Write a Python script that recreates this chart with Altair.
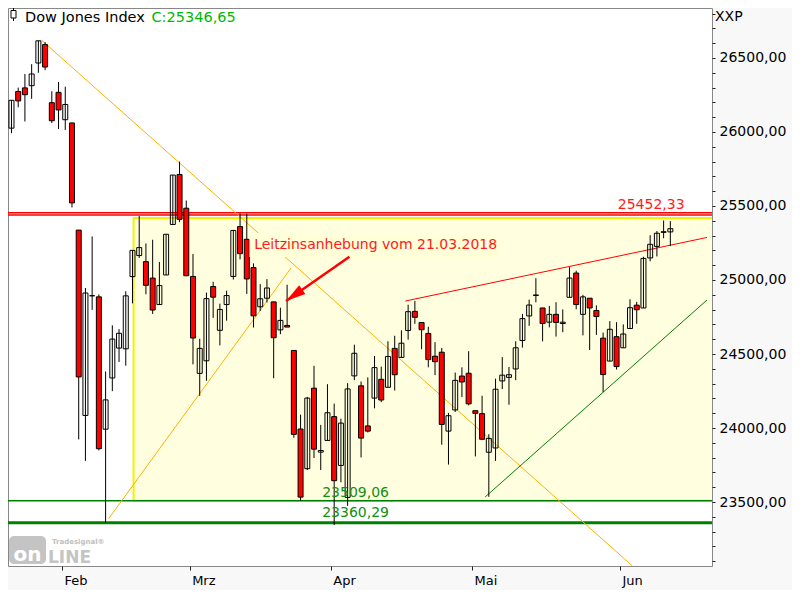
import altair as alt
import pandas as pd

# ---------------- data ----------------
dates = ["01-19", "01-22", "01-23", "01-24", "01-25", "01-26", "01-29", "01-30", "01-31",
         "02-01", "02-02", "02-05", "02-06", "02-07", "02-08", "02-09", "02-12", "02-13", "02-14",
         "02-15", "02-16", "02-20", "02-21", "02-22", "02-23", "02-26", "02-27", "02-28",
         "03-01", "03-02", "03-05", "03-06", "03-07", "03-08", "03-09", "03-12", "03-13", "03-14",
         "03-15", "03-16", "03-19", "03-20", "03-21", "03-22", "03-23", "03-26", "03-27", "03-28", "03-29",
         "04-02", "04-03", "04-04", "04-05", "04-06", "04-09", "04-10", "04-11", "04-12", "04-13",
         "04-16", "04-17", "04-18", "04-19", "04-20", "04-23", "04-24", "04-25", "04-26", "04-27", "04-30",
         "05-01", "05-02", "05-03", "05-04", "05-07", "05-08", "05-09", "05-10", "05-11",
         "05-14", "05-15", "05-16", "05-17", "05-18", "05-21", "05-22", "05-23", "05-24", "05-25",
         "05-29", "05-30", "05-31",
         "06-01", "06-04", "06-05", "06-06", "06-07", "06-08", "06-11", "06-12"]
opens = [26037, 26026, 26274, 26298, 26313, 26466, 26591, 26198, 26268,
         26083, 26061, 25337, 24085, 24894, 24886, 23992, 24338, 24540, 24535,
         25023, 25165, 25124, 25013, 24834, 25034, 25375, 25713, 25485,
         25024, 24369, 24454, 24956, 24660, 24834, 25024, 25361, 25275, 25084,
         24819, 24877, 24852, 24663, 24693, 24524, 23993, 23725, 24269, 23837, 23916,
         24077, 23747, 23531, 24352, 24285, 24014, 24202, 24329, 24275, 24538,
         24477, 24659, 24788, 24713, 24639, 24485, 24512, 23979, 24122, 24351, 24370,
         24117, 24097, 23836, 23865, 24318, 24342, 24399, 24591, 24757,
         24895, 24811, 24715, 24768, 24706, 24883, 25047, 24768, 24877, 24794,
         24607, 24452, 24617,
         24542, 24672, 24830, 24811, 25149, 25227, 25326, 25325]
highs = [26072, 26215, 26300, 26392, 26458, 26617, 26608, 26275, 26338,
         26306, 26061, 25337, 24946, 25294, 24903, 24382, 24694, 24668, 24924,
         25200, 25432, 25247, 25272, 25122, 25309, 25709, 25800, 25537,
         25176, 24603, 24915, 24988, 24840, 24928, 25336, 25450, 25449, 25112,
         24972, 25006, 24853, 24813, 24968, 24524, 24090, 24210, 24420, 24021, 24296,
         24165, 24063, 24303, 24563, 24314, 24342, 24487, 24415, 24586, 24623,
         24660, 24833, 24859, 24715, 24684, 24580, 24540, 24102, 24375, 24410, 24519,
         24117, 24218, 23958, 24333, 24479, 24412, 24586, 24771, 24867,
         25012, 24812, 24825, 24850, 24801, 25086, 25063, 24900, 24877, 24828,
         24645, 24722, 24715,
         24700, 24870, 24852, 25157, 25303, 25331, 25402, 25398]
lows = [25945, 25992, 26167, 26071, 26224, 26400, 26418, 26061, 26020,
        26014, 25490, 23923, 23778, 24798, 23849, 23360.29, 24249, 24446, 24421,
        24842, 25149, 24903, 24771, 24834, 25034, 25375, 25391, 25025,
        24430, 24217, 24319, 24744, 24558, 24725, 25003, 25139, 24906, 24679,
        24790, 24848, 24336, 24634, 24682, 23934, 23509.06, 23716, 23797, 23716, 23916,
        23344, 23633, 23474, 24323, 23801, 23970, 24133, 24175, 24275, 24253,
        24477, 24597, 24704, 24532, 24410, 24357, 23887, 23753, 24108, 24209, 24153,
        23808, 23918, 23535, 23778, 24263, 24157, 24323, 24543, 24690,
        24849, 24585, 24680, 24618, 24647, 24883, 24802, 24626, 24527, 24629,
        24242, 24452, 24395,
        24542, 24672, 24704, 24811, 25126, 25159, 25282, 25229]
closes = [26071, 26214, 26210, 26252, 26392, 26616, 26439, 26076, 26149,
          26186, 25521, 24345, 24912, 24893, 23860, 24190, 24601, 24640, 24893,
          25200, 25219, 24964, 24797, 24962, 25309, 25709, 25410, 25029,
          24608, 24538, 24874, 24884, 24801, 24895, 25335, 25178, 25007, 24758,
          24873, 24946, 24610, 24727, 24682, 23957, 23533, 24202, 23857, 23848, 24103,
          23644, 24033, 24264, 24505, 23932, 23979, 24408, 24189, 24483, 24360,
          24573, 24786, 24748, 24664, 24462, 24448, 24024, 24083, 24322, 24311, 24163,
          24099, 23924, 23930, 24262, 24357, 24360, 24542, 24739, 24831,
          24899, 24706, 24768, 24713, 24715, 25013, 24834, 24886, 24811, 24753,
          24361, 24667, 24415,
          24635, 24813, 24799, 25146, 25241, 25316, 25322, 25346.65]
first_index = -9  # Jan 19 is 9 trading days before Feb 1

month_labels = ["Feb", "Mrz", "Apr", "Mai", "Jun"]
month_index = [0, 19, 40, 61, 83]

# horizontal levels
red_levels = [25455, 25440]
green_levels = [23509.06, 23360.29]
green_widths = [1.5, 3.0]

# support zone (rectangle)
zone_x = [10.66, 97.5]
zone_y = [23509.06, 25419]

# trend lines
trend_x1 = [-3.06, 6.95, 51.09, 62.96]
trend_y1 = [26621.6, 23387, 24858, 23534]
trend_x2 = [84.87, 34.08, 95.953, 95.953]
trend_y2 = [23067.6, 25081, 25287.5, 24865]
trend_col = ["#ffb000", "#ffb000", "#ff0000", "#008000"]

# annotation
note_text = "Leitzinsanhebung vom 21.03.2018"
note_box_x = [27.9, 64.9]
note_box_y = [25155.4, 25317.6]
note_pos = [28.6, 25209.5]
arrow_from = [42.77, 25157.4]
arrow_to = [33.34, 24858]

title_name = "Dow Jones Index"
title_close = "C:25346,65"

# ---------------- scales / axes ----------------
X_DOM = [-7.273, 95.953]
Y_DOM = [23067.6, 26837.8]
xs = alt.Scale(domain=X_DOM, nice=False, zero=False)
ys = alt.Scale(domain=Y_DOM, nice=False, zero=False)

label_expr = " : ".join(
    f"datum.value == {v} ? '{l}'" for v, l in zip(month_index, month_labels)) + " : ''"
xaxis = alt.Axis(values=month_index, labelExpr=label_expr, title=None, grid=False,
                 domain=False, tickSize=4, tickColor="#222222", labelAlign="left",
                 labelOffset=2, labelPadding=4, labelFont="DejaVu Sans", labelFontSize=13,
                 labelColor="#000000", labelOverlap=False, labelFlush=False)
yaxis = alt.Axis(orient="right", values=list(range(23100, 26801, 100)),
                 labelExpr="datum.value % 500 == 0 ? replace(format(datum.value, '.2f'), '.', ',') : ''",
                 title=None, grid=False, domain=False, tickSize=3, tickColor="#222222",
                 labelPadding=4, labelFont="DejaVu Sans", labelFontSize=14,
                 labelColor="#000000", labelOverlap=False, labelFlush=False)


def X(f):
    return alt.X(f, type="quantitative", scale=xs, axis=xaxis)


def Y(f):
    return alt.Y(f, type="quantitative", scale=ys, axis=yaxis)


candles = pd.DataFrame({
    "date": dates, "open": opens, "high": highs, "low": lows, "close": closes})
candles["x"] = [first_index + k + 0.5 for k in range(len(dates))]

zone_df = pd.DataFrame({"x": [zone_x[0]], "x2": [zone_x[1]], "y": [zone_y[0]], "y2": [zone_y[1]]})
zone = alt.Chart(zone_df).mark_rect(fill="#ffffe0", stroke="#f2f200", strokeWidth=2, clip=True).encode(
    x=X("x"), x2="x2", y=Y("y"), y2="y2")

red_df = pd.DataFrame({"y": red_levels})
red_rules = alt.Chart(red_df).mark_rule(color="#ff0000", strokeWidth=1.5).encode(y=Y("y"))

green_df = pd.DataFrame({"y": green_levels, "w": green_widths})
green_rules = alt.Chart(green_df).mark_rule(color="#008000").encode(
    y=Y("y"), strokeWidth=alt.StrokeWidth("w:Q", scale=None, legend=None))

trend_df = pd.DataFrame({"x": trend_x1, "y": trend_y1, "x2": trend_x2, "y2": trend_y2, "c": trend_col})
trends = alt.Chart(trend_df).mark_rule(strokeWidth=1, clip=True).encode(
    x=X("x"), y=Y("y"), x2="x2", y2="y2", color=alt.Color("c:N", scale=None, legend=None))

wicks = alt.Chart(candles).mark_rule(color="#000000", strokeWidth=1, clip=True).encode(
    x=X("x"), y=Y("low"), y2="high")
bodies = alt.Chart(candles).mark_bar(size=5, stroke="#000000", strokeWidth=1, clip=True).encode(
    x=X("x"), y=Y("open"), y2="close",
    fill=alt.condition("datum.close < datum.open", alt.value("#ff0000"), alt.value("rgba(255,255,255,0)")))

box_df = pd.DataFrame({"x": [note_box_x[0]], "x2": [note_box_x[1]], "y": [note_box_y[0]], "y2": [note_box_y[1]]})
note_box = alt.Chart(box_df).mark_rect(fill="#ffffd8").encode(x=X("x"), x2="x2", y=Y("y"), y2="y2")

note_df = pd.DataFrame({"x": [note_pos[0]], "y": [note_pos[1]], "t": [note_text]})
note = alt.Chart(note_df).mark_text(align="left", baseline="alphabetic", font="DejaVu Sans",
                                     fontSize=14, color="#ff1a1a").encode(x=X("x"), y=Y("y"), text="t:N")

arrow_df = pd.DataFrame({"x": [arrow_from[0]], "y": [arrow_from[1]], "x2": [arrow_to[0]], "y2": [arrow_to[1]]})
shaft = alt.Chart(arrow_df).mark_rule(color="#ff0000", strokeWidth=2.5).encode(
    x=X("x"), y=Y("y"), x2="x2", y2="y2")
head_df = pd.DataFrame({"x": [arrow_to[0]], "y": [arrow_to[1]]})
head = alt.Chart(head_df).mark_point(shape="M0,0L0.6,2.2L-0.6,2.2Z", size=324, angle=235,
                                     filled=True, color="#ff0000", opacity=1).encode(x=X("x"), y=Y("y"))

lvl_df = pd.DataFrame({
    "x": [92.62, 43.68, 43.68],
    "y": [red_levels[0], green_levels[0], green_levels[1]],
    "t": ["25452,33", "23509,06", "23360,29"],
})
lvl_red = alt.Chart(lvl_df.iloc[[0]]).mark_text(align="right", baseline="alphabetic", dy=-3.5,
                                                 font="DejaVu Sans", fontSize=14, color="#ff1a1a").encode(
    x=X("x"), y=Y("y"), text="t:N")
lvl_g1 = alt.Chart(lvl_df.iloc[[1]]).mark_text(align="center", baseline="alphabetic", dy=-4,
                                                font="DejaVu Sans", fontSize=14, color="#109010").encode(
    x=X("x"), y=Y("y"), text="t:N")
lvl_g2 = alt.Chart(lvl_df.iloc[[2]]).mark_text(align="center", baseline="alphabetic", dy=-6,
                                                font="DejaVu Sans", fontSize=14, color="#109010").encode(
    x=X("x"), y=Y("y"), text="t:N")

one = pd.DataFrame({"a": [0]})
title1 = alt.Chart(one).mark_text(align="left", baseline="alphabetic", font="DejaVu Sans",
                                  fontSize=14.5, color="#000000").encode(
    x=alt.value(17), y=alt.value(13.5), text=alt.value(title_name))
title2 = alt.Chart(one).mark_text(align="left", baseline="alphabetic", font="DejaVu Sans",
                                  fontSize=14.5, color="#00b800").encode(
    x=alt.value(143.5), y=alt.value(13.5), text=alt.value(title_close))
icon_wick = alt.Chart(one).mark_rule(color="#000000", strokeWidth=1).encode(
    x=alt.value(5.5), y=alt.value(0), y2=alt.value(13))
icon_body = alt.Chart(one).mark_rect(fill="#ffffff", stroke="#000000", strokeWidth=1).encode(
    x=alt.value(3), x2=alt.value(8), y=alt.value(2.5), y2=alt.value(10))
xxp = alt.Chart(one).mark_text(align="left", baseline="alphabetic", font="DejaVu Sans",
                               fontSize=14, color="#000000").encode(
    x=alt.value(707), y=alt.value(13), text=alt.value("XXP"))

logo_box = alt.Chart(one).mark_rect(fill="#c4c4c4", cornerRadius=5).encode(
    x=alt.value(1), x2=alt.value(38), y=alt.value(528), y2=alt.value(556))
logo_on = alt.Chart(one).mark_text(align="center", baseline="alphabetic", font="DejaVu Sans",
                                   fontSize=20, fontWeight="bold", color="#ffffff").encode(
    x=alt.value(19.5), y=alt.value(553), text=alt.value("on"))
logo_line = alt.Chart(one).mark_text(align="left", baseline="alphabetic", font="DejaVu Sans",
                                     fontSize=17, fontWeight="bold", color="#c4c4c4").encode(
    x=alt.value(40), y=alt.value(555), text=alt.value("LINE"))
logo_ts = alt.Chart(one).mark_text(align="left", baseline="alphabetic", font="DejaVu Sans",
                                   fontSize=7, fontWeight="bold", color="#c0c0c0").encode(
    x=alt.value(44), y=alt.value(535.5), text=alt.value("Tradesignal®"))

chart = alt.layer(
    zone, green_rules, red_rules, trends, wicks, bodies,
    note_box, note, shaft, head, lvl_red, lvl_g1, lvl_g2,
    title1, title2, icon_wick, icon_body, xxp, logo_box, logo_on, logo_line, logo_ts,
).properties(
    width=704, height=558,
    autosize=alt.AutoSizeParams(type="none"),
    padding={"left": 0, "top": 0, "right": 80, "bottom": 24},
    background="#f8f8f8",
).configure_view(fill="#ffffff", stroke="#888888", strokeWidth=1)

chart.save("out.html", embed_options={"renderer": "svg", "actions": False})
